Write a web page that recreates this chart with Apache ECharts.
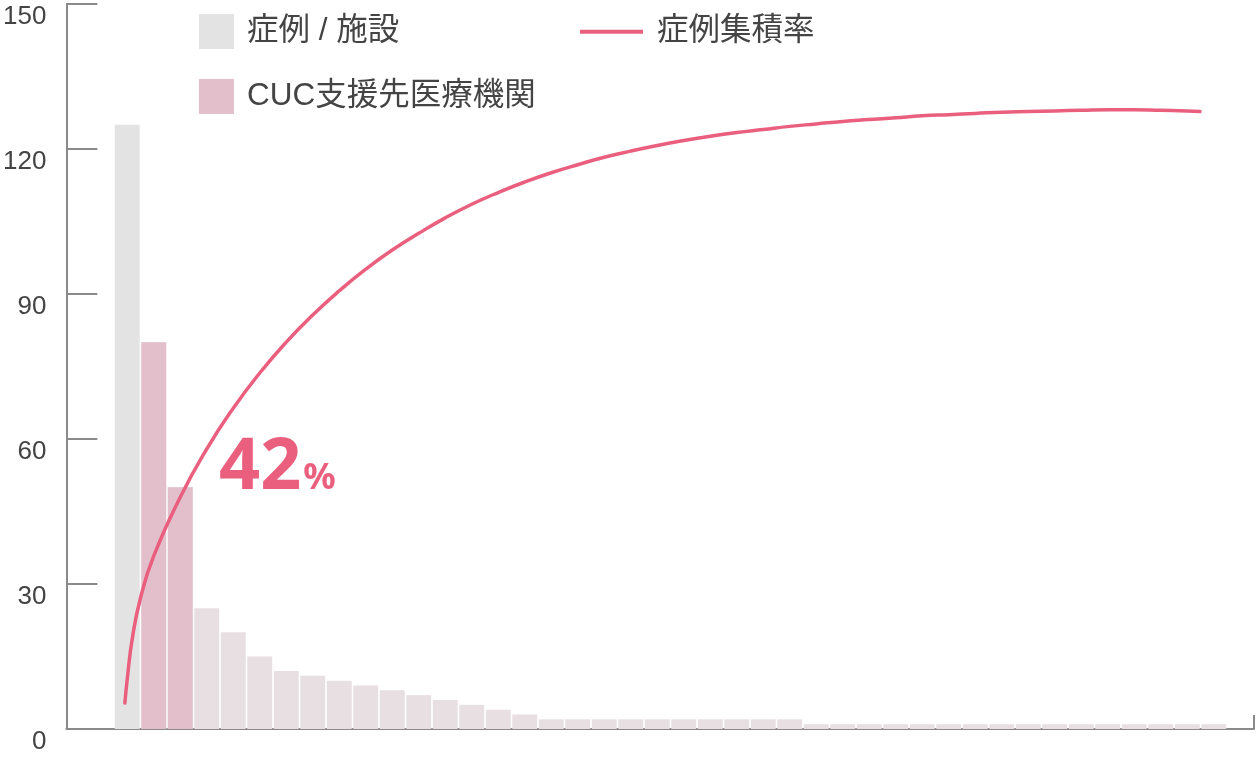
<!DOCTYPE html>
<html>
<head>
<meta charset="utf-8">
<script src="https://cdn.jsdelivr.net/npm/echarts@6/dist/echarts.min.js"></script>
<style>
  html, body { margin: 0; padding: 0; background: #fff; }
  #chart { width: 1258px; height: 760px; }
</style>
</head>
<body>
<div id="chart"></div>
<script>
// ---- data ----
const yTicks = [0, 30, 60, 90, 120, 150];
const cases = [125, 80, 50, 25, 20, 15, 12, 11, 10, 9, 8, 7, 6, 5, 4, 3,
  2, 2, 2, 2, 2, 2, 2, 2, 2, 2,
  1, 1, 1, 1, 1, 1, 1, 1, 1, 1, 1, 1, 1, 1, 1, 1];
const cucIndices = [1, 2];
// cumulative rate curve: position along the facility ranking (in bar units) and rate (%)
const ratePos = [-0.09, 0, 0.2, 0.5, 1, 2, 3, 4, 5, 6, 7, 8, 9, 10,
  11, 12, 13, 14, 15, 16, 17, 18, 19, 20,
  21, 22, 23, 24, 25, 26, 27, 28, 29, 30,
  31, 32, 33, 34, 35, 36, 37, 38, 39, 40, 40.48];
const rateVal = [4.2, 8.1, 14.9, 21.2, 28.0, 37.5, 45.3, 51.9, 57.6, 62.6, 67.0, 70.9, 74.4, 77.5,
  80.2, 82.7, 84.9, 86.8, 88.5, 90.0, 91.3, 92.5, 93.5, 94.4,
  95.2, 95.9, 96.5, 97.0, 97.5, 97.9, 98.3, 98.6, 98.9, 99.2,
  99.4, 99.6, 99.8, 99.9, 100.0, 100.1, 100.2, 100.2, 100.1, 100.0, 99.9];
const highlightRate = '42';
const seriesNames = ['症例 / 施設', 'CUC支援先医療機関', '症例集積率'];

// ---- chart ----
const categories = cases.map((_, i) => String(i + 1));
const cucData = cases.map((v, i) => cucIndices.includes(i) ? v : '-');
const lineData = ratePos.map((p, i) => [p, rateVal[i]]);

const AXIS = '#8a8a8a';
const GREY = '#e3e3e3';
const PINK = '#e2bfcb';
const LIGHT = '#e8dfe3';
const RED = '#ea5f7e';
const TXT = '#444';
const LATIN = '"Liberation Sans", Arial, "Noto Sans CJK JP", sans-serif';

const chart = echarts.init(document.getElementById('chart'), null, { renderer: 'canvas' });
chart.setOption({
  animation: false,
  backgroundColor: '#fff',
  title: {
    left: 219, top: 428, padding: 0,
    text: '{a|' + highlightRate + '}{b|%}',
    textStyle: {
      rich: {
        a: { fontFamily: '"Noto Sans", sans-serif', fontWeight: 'bold', fontSize: 72, color: RED, lineHeight: 76, verticalAlign: 'bottom' },
        b: { fontFamily: '"Noto Sans", sans-serif', fontWeight: 'bold', fontSize: 36, color: RED, lineHeight: 40, verticalAlign: 'bottom', padding: [0, 0, 7, 2] }
      }
    }
  },
  legend: [
    {
      orient: 'vertical', left: 199, top: 14, itemGap: 30, padding: 0,
      itemWidth: 35, itemHeight: 35, icon: 'rect',
      selectedMode: false,
      textStyle: { fontFamily: LATIN, fontSize: 31.5, color: TXT, padding: [0, 0, 0, 8] },
      data: [
        { name: seriesNames[0], itemStyle: { color: GREY } },
        { name: seriesNames[1], itemStyle: { color: PINK } }
      ]
    },
    {
      left: 580, top: 16, padding: 0,
      itemWidth: 63, itemHeight: 4, icon: 'rect',
      selectedMode: false,
      textStyle: { fontFamily: LATIN, fontSize: 31.5, color: TXT, padding: [0, 0, 0, 9] },
      data: [{ name: seriesNames[2], itemStyle: { color: RED } }]
    }
  ],
  grid: [
    { left: 65, right: 4, top: 4, bottom: 31 },
    { left: 114, right: 31, top: 4, bottom: 31 }
  ],
  xAxis: [
    {
      gridIndex: 0, type: 'value', min: 0, max: 1, interval: 1,
      axisLine: { show: true, lineStyle: { color: AXIS, width: 2 } },
      axisTick: { show: true, inside: true, length: 14, lineStyle: { color: AXIS, width: 2 } },
      axisLabel: { show: false }, splitLine: { show: false }
    },
    {
      gridIndex: 1, type: 'category', data: categories,
      show: false
    },
    {
      gridIndex: 1, type: 'value', min: -0.5, max: cases.length - 0.5,
      show: false
    }
  ],
  yAxis: [
    {
      gridIndex: 0, type: 'value', min: yTicks[0], max: yTicks[yTicks.length - 1], interval: 30,
      axisLine: { show: true, lineStyle: { color: AXIS, width: 2 } },
      axisTick: { show: true, inside: true, length: 31, lineStyle: { color: AXIS, width: 2 } },
      axisLabel: {
        show: true, margin: 20, color: TXT, fontFamily: LATIN, fontSize: 26,
        verticalAlign: 'top', lineHeight: 26
      },
      splitLine: { show: false }
    },
    {
      gridIndex: 1, type: 'value', min: yTicks[0], max: yTicks[yTicks.length - 1],
      show: false, splitLine: { show: false }
    },
    {
      gridIndex: 1, type: 'value', min: 0, max: 117.3,
      show: false, splitLine: { show: false }
    }
  ],
  series: [
    {
      name: seriesNames[0], type: 'bar', xAxisIndex: 1, yAxisIndex: 1,
      data: cases, barCategoryGap: '6%',
      itemStyle: { color: p => p.dataIndex === 0 ? GREY : LIGHT },
      silent: true
    },
    {
      name: seriesNames[1], type: 'bar', xAxisIndex: 1, yAxisIndex: 1,
      data: cucData, barGap: '-100%', barCategoryGap: '6%',
      itemStyle: { color: PINK },
      silent: true
    },
    {
      name: seriesNames[2], type: 'line', xAxisIndex: 2, yAxisIndex: 2,
      data: lineData, smooth: 0.5, showSymbol: false, symbol: 'none',
      lineStyle: { color: RED, width: 3.5, cap: 'round' },
      itemStyle: { color: RED },
      z: 5, silent: true
    }
  ]
});
</script>
</body>
</html>
